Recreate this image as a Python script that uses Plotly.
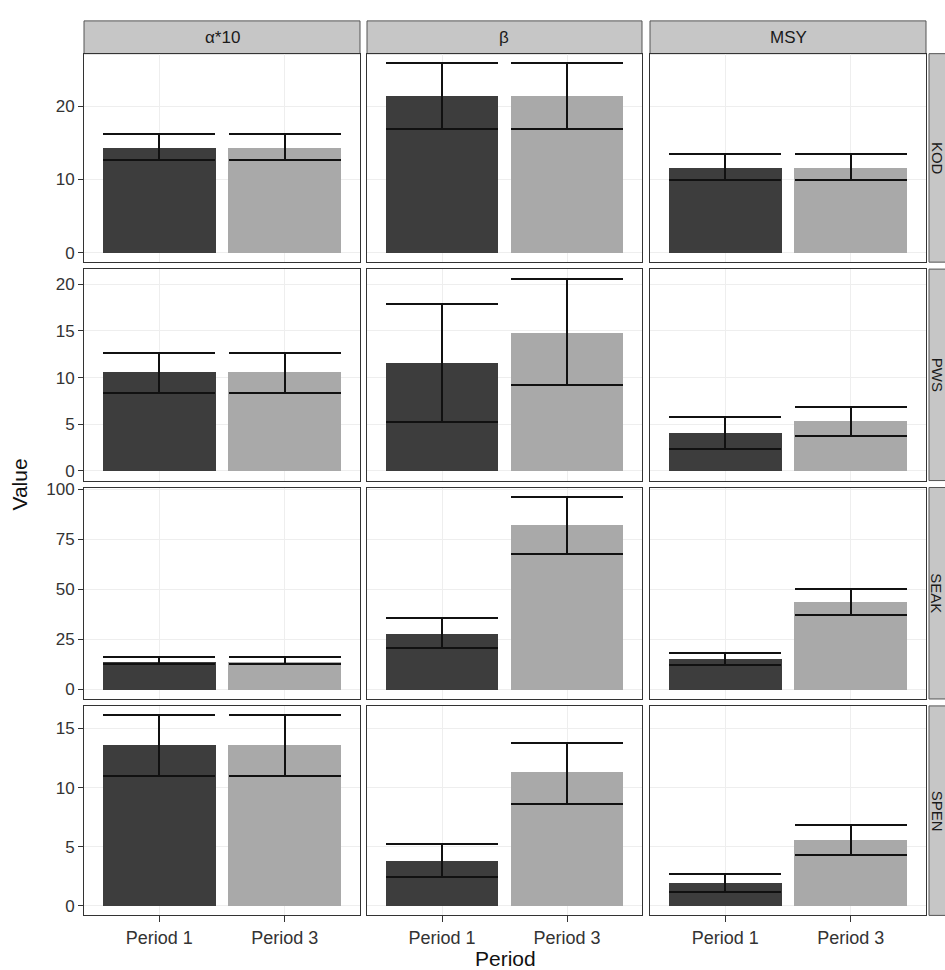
import plotly.graph_objects as go

# ---------------- data ----------------
regions = ["KOD", "PWS", "SEAK", "SPEN"]
params = ["α*10", "β", "MSY"]
periods = ["Period 1", "Period 3"]

# estimates [region][param] -> [Period 1, Period 3]
kod_mean = [[14.3, 14.3], [21.4, 21.4], [11.6, 11.6]]
kod_low = [[12.6, 12.6], [16.9, 16.9], [9.9, 9.9]]
kod_high = [[16.2, 16.2], [25.9, 25.9], [13.5, 13.5]]

pws_mean = [[10.6, 10.6], [11.6, 14.8], [4.1, 5.3]]
pws_low = [[8.4, 8.4], [5.2, 9.2], [2.4, 3.7]]
pws_high = [[12.6, 12.6], [17.9, 20.6], [5.8, 6.8]]

seak_mean = [[14.0, 14.0], [28.1, 82.1], [15.2, 43.9]]
seak_low = [[12.7, 12.7], [20.7, 67.8], [12.2, 37.3]]
seak_high = [[16.2, 16.2], [35.4, 96.0], [18.0, 50.0]]

spen_mean = [[13.6, 13.6], [3.8, 11.3], [1.9, 5.6]]
spen_low = [[11.0, 11.0], [2.4, 8.6], [1.2, 4.3]]
spen_high = [[16.1, 16.1], [5.2, 13.8], [2.7, 6.8]]

row_ticks = [[0, 10, 20], [0, 5, 10, 15, 20], [0, 25, 50, 75, 100], [0, 5, 10, 15]]

means = [kod_mean, pws_mean, seak_mean, spen_mean]
lows = [kod_low, pws_low, seak_low, spen_low]
highs = [kod_high, pws_high, seak_high, spen_high]

# ---------------- layout geometry ----------------
W, H = 945, 970
col_px = [(84, 360), (367, 642), (650, 926)]
row_px = [(47, 257), (264, 477), (484, 697), (704, 915)]
strip_top = (14, 47)
strip_right = (929, 962)

bar_colors = ["#3d3d3d", "#a9a9a9"]
FONT = "Liberation Sans"
border = "#333333"

fig = go.Figure()
layout_axes = {}
shapes = []
annotations = []

for r in range(4):
    lo_all = min(0, min(min(v) for v in lows[r]))
    hi_all = max(max(v) for v in highs[r])
    span = hi_all - lo_all
    yrange = [lo_all - 0.05 * span, hi_all + 0.05 * span]
    for c in range(3):
        idx = r * 3 + c + 1
        xa = "xaxis" if idx == 1 else f"xaxis{idx}"
        ya = "yaxis" if idx == 1 else f"yaxis{idx}"
        xref = "x" if idx == 1 else f"x{idx}"
        yref = "y" if idx == 1 else f"y{idx}"
        m = means[r][c]
        lo = lows[r][c]
        hi = highs[r][c]
        fig.add_trace(go.Bar(
            x=periods, y=m, width=0.9,
            marker=dict(color=bar_colors, line=dict(width=0)),
            error_y=dict(type="data", symmetric=False,
                         array=[h - v for h, v in zip(hi, m)],
                         arrayminus=[v - l for v, l in zip(m, lo)],
                         color="#111111", thickness=2, width=56),
            xaxis=xref, yaxis=yref, showlegend=False,
        ))
        x0, x1 = col_px[c]
        y0, y1 = row_px[r]
        layout_axes[xa] = dict(
            domain=[x0 / W, x1 / W], anchor=yref,
            type="category", range=[-0.6, 1.6],
            showline=True, mirror=True, linecolor=border, linewidth=1,
            showgrid=True, gridcolor="#eeeeee", gridwidth=1,
            showticklabels=(r == 3),
            ticks="outside" if r == 3 else "", ticklen=6, tickcolor=border,
            tickfont=dict(family=FONT, size=18, color="#333333"),
            zeroline=False, fixedrange=True,
        )
        layout_axes[ya] = dict(
            domain=[1 - y1 / H, 1 - y0 / H], anchor=xref,
            range=yrange, tickvals=row_ticks[r],
            showline=True, mirror=True, linecolor=border, linewidth=1,
            showgrid=True, gridcolor="#eeeeee", gridwidth=1,
            showticklabels=(c == 0),
            ticks="outside" if c == 0 else "", ticklen=5, tickcolor=border,
            tickfont=dict(family=FONT, size=17, color="#333333"),
            zeroline=False, fixedrange=True,
        )

# top strips
for c in range(3):
    x0, x1 = col_px[c]
    shapes.append(dict(type="rect", xref="paper", yref="paper",
                       x0=x0 / W, x1=x1 / W, y0=1 - strip_top[1] / H, y1=1 - strip_top[0] / H,
                       fillcolor="#c6c6c6", line=dict(color="#555555", width=1), layer="below"))
    annotations.append(dict(text=params[c], xref="paper", yref="paper",
                            x=(x0 + x1) / 2 / W, y=1 - (strip_top[0] + strip_top[1]) / 2 / H,
                            showarrow=False, xanchor="center", yanchor="middle",
                            font=dict(family=FONT, size=17, color="#1a1a1a")))

# right strips (extend past the right edge, as in the reference)
for r in range(4):
    y0, y1 = row_px[r]
    shapes.append(dict(type="rect", xref="paper", yref="paper",
                       x0=strip_right[0] / W, x1=strip_right[1] / W, y0=1 - y1 / H, y1=1 - y0 / H,
                       fillcolor="#c6c6c6", line=dict(color="#555555", width=1), layer="below"))
    annotations.append(dict(text=regions[r], xref="paper", yref="paper",
                            x=937 / W, y=1 - (y0 + y1) / 2 / H,
                            showarrow=False, xanchor="center", yanchor="middle", textangle=90,
                            font=dict(family=FONT, size=15, color="#1a1a1a")))

# axis titles
annotations.append(dict(text="Period", xref="paper", yref="paper",
                        x=(col_px[0][0] + col_px[2][1]) / 2 / W, y=1 - 958 / H,
                        showarrow=False, xanchor="center", yanchor="middle",
                        font=dict(family=FONT, size=21, color="#111111")))
annotations.append(dict(text="Value", xref="paper", yref="paper",
                        x=20 / W, y=1 - (row_px[0][0] + row_px[3][1]) / 2 / H,
                        showarrow=False, xanchor="center", yanchor="middle", textangle=-90,
                        font=dict(family=FONT, size=21, color="#111111")))

fig.update_layout(
    width=W, height=H, autosize=False,
    margin=dict(l=0, r=0, t=0, b=0),
    paper_bgcolor="white", plot_bgcolor="white",
    barmode="overlay", bargap=0,
    shapes=shapes, annotations=annotations,
    **layout_axes,
)

fig.write_html("out.html",
               config={"displayModeBar": False},
               post_script="document.body.style.margin='0';document.body.style.overflow='hidden';")
